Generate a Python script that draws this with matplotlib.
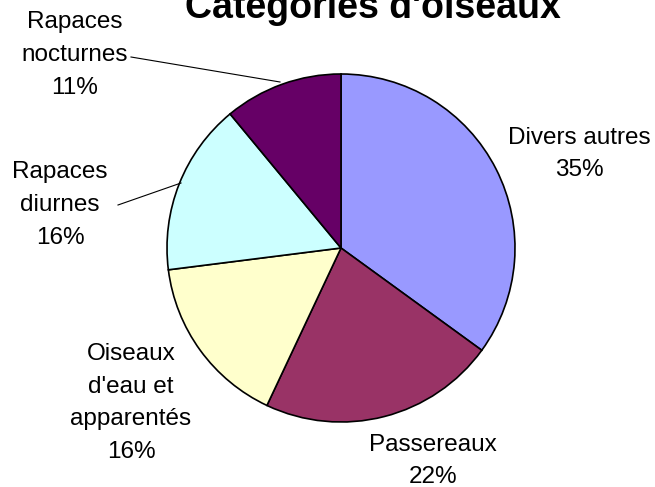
import matplotlib
matplotlib.use("Agg")
from matplotlib import pyplot as plt

plt.rcParams['font.family'] = ['Liberation Sans', 'DejaVu Sans']

categories = ["Divers autres", "Passereaux", "Oiseaux\nd'eau et\napparentés",
              "Rapaces\ndiurnes", "Rapaces\nnocturnes"]
percents = [35, 22, 16, 16, 11]
colors = ['#9999FF', '#993366', '#FFFFCC', '#CCFFFF', '#660066']

W, H = 655, 487
cx, cy, r = 341, 248, 174   # pie centre and radius in pixels

fig = plt.figure(figsize=(W / 100, H / 100), dpi=100)
ax = fig.add_axes([0, 0, 1, 1])

ax.pie(percents, colors=colors, startangle=90, counterclock=False, radius=1,
       wedgeprops=dict(edgecolor='black', linewidth=1.2))

ax.set_aspect('auto')
ax.set_xlim(-cx / r, (W - cx) / r)
ax.set_ylim(-(H - cy) / r, cy / r)
ax.axis('off')

def px(x, y):
    return ((x - cx) / r, (cy - y) / r)

# label positions (pixel centres)
label_pos = [(579, 154), (433, 461), (131, 403), (60, 205), (75, 55)]
for name, pct, (x, y) in zip(categories, percents, label_pos):
    ax.text(*px(x, y), name + "\n" + str(pct) + "%", ha='center', va='center',
            fontsize=17.5, linespacing=1.62)

# leader lines
ax.plot(*zip(px(131, 57), px(280, 82)), color='black', lw=0.8)
ax.plot(*zip(px(118, 205), px(181, 183)), color='black', lw=0.8)

ax.text(*px(373, 18), "Catégories d'oiseaux", ha='center', va='baseline',
        fontsize=27, fontweight='bold')

fig.savefig('out.png', dpi=100)
